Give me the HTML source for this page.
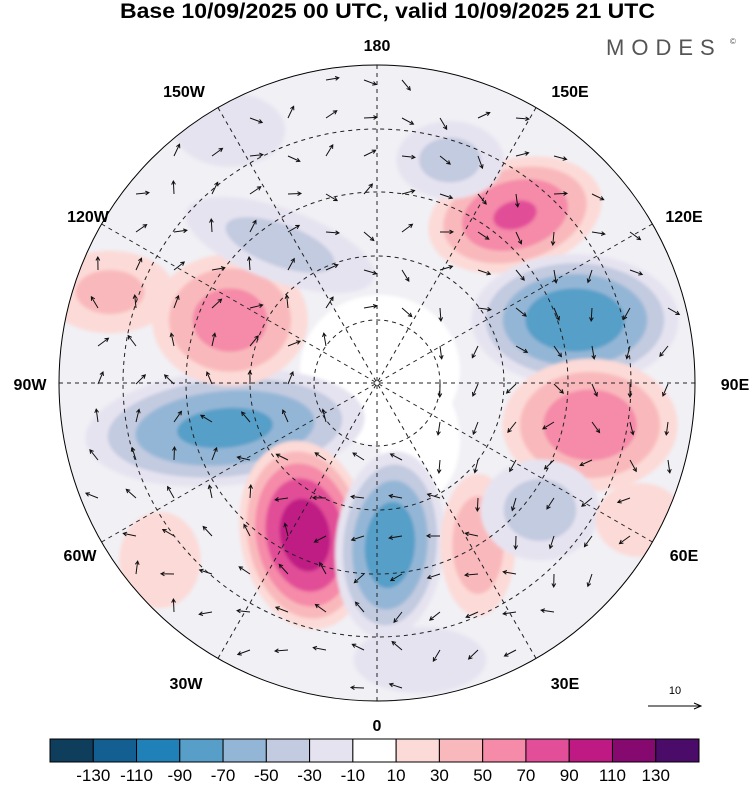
<!DOCTYPE html>
<html><head><meta charset="utf-8">
<style>
html,body{margin:0;padding:0;background:#fff;}
body{width:750px;height:783px;overflow:hidden;font-family:"Liberation Sans",Arial,sans-serif;}
</style></head>
<body>
<svg id="chart" width="750" height="783" viewBox="0 0 750 783" xmlns="http://www.w3.org/2000/svg">
<defs><clipPath id="clip"><circle cx="377" cy="383" r="318"/></clipPath>
<filter id="blur"><feGaussianBlur stdDeviation="1.5"/></filter></defs>
<text x="120" y="18" textLength="535" lengthAdjust="spacingAndGlyphs" font-size="21" font-weight="bold" fill="#000">Base 10/09/2025 00 UTC, valid 10/09/2025 21 UTC</text>
<text x="606" y="55" font-size="22" fill="#555" letter-spacing="7">MODES</text>
<text x="730" y="44" font-size="8" fill="#555">©</text>
<g id="map" clip-path="url(#clip)">
<circle cx="377" cy="383" r="318" fill="#f1f0f5"/>
<ellipse cx="380" cy="370" rx="80" ry="75" fill="#ffffff" filter="url(#blur)"/>
<ellipse cx="420" cy="440" rx="40" ry="60" fill="#ffffff" filter="url(#blur)"/>
<g id="blobs" filter="url(#blur)"></g>
<g id="grid"></g>
<g id="arrows"></g>
</g>
<circle cx="377" cy="383" r="318" fill="none" stroke="#000" stroke-width="1"/>
<g id="labels" font-size="16" font-weight="bold" fill="#000" text-anchor="middle"></g>
<g>
<text x="675" y="694" font-size="11" text-anchor="middle">10</text>
<line x1="648" y1="706" x2="700" y2="706" stroke="#000" stroke-width="1"/>
<path d="M694 703 L701 706 L694 709" fill="none" stroke="#000"/>
</g>
<g id="colorbar"></g>
</svg>
<script>
const levels=[-130,-110,-90,-70,-50,-30,-10,10,30,50,70,90,110,130];
const colors=["#0f3d5c","#135f92","#2080b8","#579fc8","#94b6d6","#c3cbe0","#e6e3f0","#ffffff","#fcdad7","#f9b9bc","#f58aa9","#e24e98","#bf1a84","#85096f","#4b0b68"];
// blob shapes: [cx, cy, rx, ry, rotation]
const blobShapes=[[225,428,150,62,-5],[230,320,85,72,0],[110,292,75,48,0],[305,535,68,100,-10],[390,545,58,100,5],[515,215,95,60,-15],[575,320,110,70,0],[590,425,95,72,0],[478,545,42,80,0],[540,510,68,58,0],[450,160,62,45,0],[280,245,115,42,20],[160,560,55,65,0],[230,130,75,50,0],[640,520,60,50,0],[420,660,90,45,0]];
const blobValues=[-78,62,38,104,-86,74,-88,66,48,-42,-40,-40,22,-22,22,-22];
const ns="http://www.w3.org/2000/svg";
function colorFor(v){let i=0;while(i<levels.length&&v>levels[i])i++;return colors[i];}
const bg=document.getElementById('blobs');
blobShapes.forEach((s,k)=>{
  const peak=blobValues[k];const sign=Math.sign(peak);
  const steps=[];for(let lv=10;lv<Math.abs(peak);lv+=20)steps.push(lv);
  steps.forEach(lv=>{
    const f=Math.sqrt(1-lv/Math.abs(peak));
    const e=document.createElementNS(ns,'ellipse');
    
    
    e.setAttribute('cx',s[0]);e.setAttribute('cy',s[1]);
    e.setAttribute('rx',s[2]*f);e.setAttribute('ry',s[3]*f);
    e.setAttribute('transform',`rotate(${s[4]} ${s[0]} ${s[1]})`);
    e.setAttribute('fill',colorFor(sign*(lv+1)));
    bg.appendChild(e);
  });
});
const cx=377,cy=383,R=318;
const grid=document.getElementById('grid');
[63,127,191,254].forEach(r=>{
  const c=document.createElementNS(ns,'circle');
  
  
  c.setAttribute('cx',cx);c.setAttribute('cy',cy);c.setAttribute('r',r);
  c.setAttribute('fill','none');c.setAttribute('stroke','#222');c.setAttribute('stroke-dasharray','4 4');c.setAttribute('stroke-width','1');
  grid.appendChild(c);
});
for(let a=0;a<180;a+=30){
  const t=a*Math.PI/180;
  const l=document.createElementNS(ns,'line');
  
  
  l.setAttribute('x1',cx+R*Math.sin(t));l.setAttribute('y1',cy-R*Math.cos(t));
  l.setAttribute('x2',cx-R*Math.sin(t));l.setAttribute('y2',cy+R*Math.cos(t));
  l.setAttribute('stroke','#222');l.setAttribute('stroke-dasharray','4 4');
  grid.appendChild(l);
}
const ag=document.getElementById('arrows');
for(let gy=80;gy<700;gy+=38){for(let gx=60;gx<700;gx+=38){
  const dx=gx-cx,dy=gy-cy;if(Math.hypot(dx,dy)>R-10||Math.hypot(dx,dy)<60)continue;
  const ang=Math.atan2(dy,dx)+Math.PI/2+((gx*7+gy*3)%5-2)*0.4;
  const L=13;const x2=gx+L*Math.cos(ang),y2=gy+L*Math.sin(ang);
  const p=document.createElementNS(ns,'path');
  
  
  const h1x=x2-4*Math.cos(ang-0.5),h1y=y2-4*Math.sin(ang-0.5),h2x=x2-4*Math.cos(ang+0.5),h2y=y2-4*Math.sin(ang+0.5);
  p.setAttribute('d',`M${gx} ${gy}L${x2} ${y2}M${h1x} ${h1y}L${x2} ${y2}L${h2x} ${h2y}`);
  p.setAttribute('stroke','#111');p.setAttribute('fill','none');p.setAttribute('stroke-width','1');
  ag.appendChild(p);
}}
const lonLabels=["180","150W","120W","90W","60W","30W","0","30E","60E","90E","120E","150E"];
const lonPos=[[377,51],[184,97],[88,222],[30,390],[80,561],[186,689],[377,731],[565,689],[684,561],[735,390],[684,222],[570,97]];
const lg=document.getElementById('labels');
lonLabels.forEach((t,i)=>{
  const e=document.createElementNS(ns,'text');
  
  
  e.setAttribute('x',lonPos[i][0]);e.setAttribute('y',lonPos[i][1]);e.textContent=t;lg.appendChild(e);
});
const cb=document.getElementById('colorbar');
const x0=50,x1=699,w=(x1-x0)/colors.length;
colors.forEach((c,i)=>{
  const r=document.createElementNS(ns,'rect');
  
  
  r.setAttribute('x',x0+i*w);r.setAttribute('y',739);r.setAttribute('width',w);r.setAttribute('height',23);
  r.setAttribute('fill',c);r.setAttribute('stroke','#000');r.setAttribute('stroke-width','1');cb.appendChild(r);
});
levels.forEach((v,i)=>{
  const t=document.createElementNS(ns,'text');
  
  
  t.setAttribute('x',x0+(i+1)*w);t.setAttribute('y',781);t.setAttribute('text-anchor','middle');t.setAttribute('font-size','17');
  t.textContent=v;cb.appendChild(t);
});
</script>
</body></html>
